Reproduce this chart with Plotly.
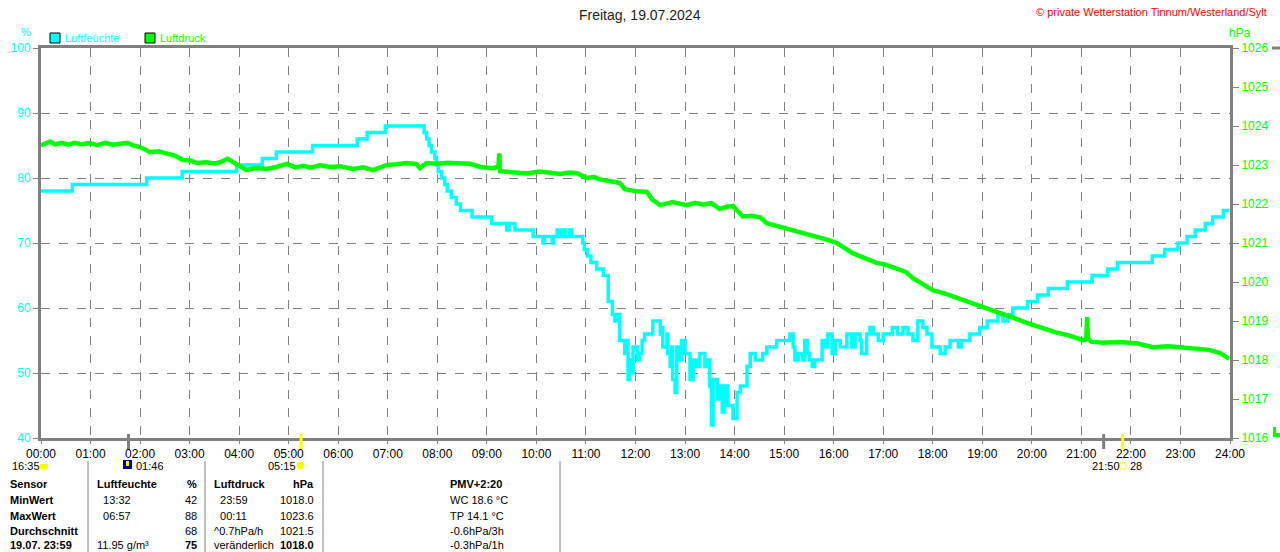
import plotly.graph_objects as go

# Luftfeuchte (%), Stufenwerte
hum_time = ["00:00", "00:38", "02:08", "02:51", "03:57", "04:28", "04:45", "05:29", "06:23", "06:35",
            "06:57", "07:44", "07:47", "07:50", "07:53", "07:57", "07:59", "08:01", "08:05", "08:09",
            "08:12", "08:17", "08:23", "08:28", "08:42", "09:06", "09:24", "09:27", "09:34", "09:56",
            "10:08", "10:10", "10:19", "10:21", "10:25", "10:28", "10:32", "10:35", "10:40", "10:43",
            "10:56", "10:58", "11:02", "11:06", "11:13", "11:21", "11:27", "11:32", "11:35", "11:38",
            "11:41", "11:47", "11:50", "11:51", "11:53", "11:56", "11:57", "12:02", "12:05", "12:08",
            "12:11", "12:21", "12:30", "12:32", "12:33", "12:38", "12:39", "12:42", "12:44", "12:45",
            "12:48", "12:50", "12:54", "12:56", "13:00", "13:06", "13:10", "13:14", "13:18", "13:24",
            "13:27", "13:30", "13:32", "13:34", "13:39", "13:42", "13:45", "13:48", "13:52", "13:58",
            "14:03", "14:07", "14:15", "14:19", "14:25", "14:34", "14:39", "14:51", "15:07", "15:11",
            "15:13", "15:17", "15:22", "15:25", "15:28", "15:31", "15:34", "15:37", "15:46", "15:50",
            "15:53", "15:58", "16:02", "16:08", "16:16", "16:22", "16:26", "16:32", "16:34", "16:40",
            "16:44", "16:48", "16:54", "17:00", "17:11", "17:17", "17:24", "17:30", "17:36", "17:42",
            "17:48", "17:53", "17:59", "18:09", "18:15", "18:21", "18:31", "18:35", "18:45", "18:57",
            "19:06", "19:19", "19:25", "19:31", "19:37", "19:55", "20:07", "20:20", "20:43", "21:13",
            "21:32", "21:44", "22:26", "22:41", "22:57", "23:08", "23:18", "23:30", "23:39", "23:52",
            "23:59"]
hum_val = [78, 79, 80, 81, 82, 83, 84, 85, 86, 87,
           88, 87, 86, 85, 84, 83, 82, 81, 80, 79,
           78, 77, 76, 75, 74, 73, 72, 73, 72, 71,
           70, 71, 70, 71, 72, 71, 72, 71, 72, 71,
           70, 69, 68, 67, 66, 65, 61, 59, 58, 59,
           55, 53, 55, 49, 52, 50, 54, 52, 53, 55,
           56, 58, 56, 57, 54, 56, 53, 51, 54, 49,
           47, 54, 52, 55, 53, 49, 52, 51, 53, 51,
           52, 48, 42, 49, 46, 48, 44, 48, 45, 43,
           47, 48, 51, 53, 52, 53, 54, 55, 56, 54,
           52, 53, 52, 55, 53, 52, 51, 52, 55, 54,
           56, 53, 55, 54, 56, 54, 56, 55, 53, 56,
           57, 56, 55, 56, 57, 56, 57, 56, 55, 58,
           57, 56, 54, 53, 54, 55, 54, 55, 56, 57,
           58, 59, 58, 59, 60, 61, 62, 63, 64, 65,
           66, 67, 68, 69, 70, 71, 72, 73, 74, 75,
           75]

# Luftdruck (hPa)
prs_time = ["00:00", "00:05", "00:11", "00:17", "00:25", "00:33", "00:41", "00:50", "00:59", "01:08",
            "01:18", "01:27", "01:36", "01:45", "01:52", "02:00", "02:06", "02:12", "02:22", "02:33",
            "02:42", "02:52", "03:00", "03:09", "03:20", "03:30", "03:37", "03:46", "03:52", "03:57",
            "04:09", "04:20", "04:34", "04:45", "04:58", "05:08", "05:18", "05:26", "05:38", "05:50",
            "06:02", "06:18", "06:30", "06:42", "06:52", "06:59", "07:10", "07:23", "07:35", "07:39",
            "07:47", "08:00", "08:12", "08:24", "08:40", "08:52", "09:07", "09:14", "09:15", "09:16",
            "09:30", "09:49", "10:04", "10:15", "10:29", "10:40", "10:49", "11:01", "11:10", "11:17",
            "11:30", "11:41", "11:47", "12:00", "12:14", "12:20", "12:30", "12:45", "13:02", "13:12",
            "13:22", "13:32", "13:42", "13:50", "13:58", "14:10", "14:20", "14:31", "14:39", "14:50",
            "15:03", "15:13", "15:23", "15:33", "15:43", "15:53", "16:04", "16:14", "16:23", "16:37",
            "16:52", "17:02", "17:12", "17:20", "17:28", "17:36", "17:48", "18:00", "18:15", "18:33",
            "18:47", "19:01", "19:15", "19:30", "19:42", "19:54", "20:06", "20:18", "20:30", "20:43",
            "20:52", "21:02", "21:06", "21:07", "21:08", "21:12", "21:26", "21:45", "22:07", "22:27",
            "22:45", "23:03", "23:15", "23:27", "23:35", "23:48", "23:59"]
prs_val = [1023.50, 1023.56, 1023.60, 1023.53, 1023.57, 1023.52, 1023.57, 1023.53, 1023.56, 1023.51,
           1023.57, 1023.52, 1023.55, 1023.57, 1023.50, 1023.46, 1023.40, 1023.33, 1023.35, 1023.28,
           1023.24, 1023.13, 1023.12, 1023.05, 1023.07, 1023.04, 1023.07, 1023.16, 1023.08, 1023.00,
           1022.87, 1022.92, 1022.90, 1022.95, 1023.03, 1022.94, 1022.98, 1022.93, 1022.99, 1022.95,
           1022.97, 1022.90, 1022.94, 1022.87, 1022.93, 1023.00, 1023.02, 1023.05, 1023.02, 1022.92,
           1023.05, 1023.03, 1023.06, 1023.05, 1023.03, 1022.95, 1022.92, 1022.96, 1023.30, 1022.84,
           1022.82, 1022.78, 1022.83, 1022.80, 1022.77, 1022.81, 1022.79, 1022.67, 1022.69, 1022.63,
           1022.58, 1022.54, 1022.38, 1022.33, 1022.31, 1022.12, 1021.97, 1022.05, 1021.97, 1022.03,
           1021.99, 1022.02, 1021.87, 1021.93, 1021.95, 1021.68, 1021.70, 1021.66, 1021.51, 1021.45,
           1021.38, 1021.32, 1021.26, 1021.21, 1021.15, 1021.08, 1021.00, 1020.86, 1020.74, 1020.62,
           1020.49, 1020.45, 1020.38, 1020.30, 1020.25, 1020.10, 1019.95, 1019.79, 1019.70, 1019.57,
           1019.47, 1019.36, 1019.26, 1019.15, 1019.05, 1018.95, 1018.86, 1018.77, 1018.70, 1018.64,
           1018.58, 1018.51, 1018.53, 1019.10, 1018.55, 1018.47, 1018.44, 1018.46, 1018.43, 1018.33,
           1018.35, 1018.32, 1018.30, 1018.28, 1018.26, 1018.18, 1018.03]

hour_ticks = list(range(25))
hour_labels = ["%02d:00" % h for h in hour_ticks]
hum_ticks = [40, 50, 60, 70, 80, 90, 100]
prs_ticks = list(range(1016, 1027))

# Mond/Sonne Ereignisse: (Zeit, Farbe)
event_time = ["01:46", "05:15", "21:27", "21:50"]
event_color = ["#808080", "#ffff00", "#808080", "#ffff00"]

# Tabelle unten
table_rows = [
    ["Sensor", "Luftfeuchte", "%", "Luftdruck", "hPa", "PMV+2:20"],
    ["MinWert", "  13:32", "42", "  23:59", "1018.0", "WC 18.6 °C"],
    ["MaxWert", "  06:57", "88", "  00:11", "1023.6", "TP 14.1 °C"],
    ["Durchschnitt", "", "68", "^0.7hPa/h", "1021.5", "-0.6hPa/3h"],
    ["19.07. 23:59", "11.95 g/m³", "75", "veränderlich", "1018.0", "-0.3hPa/1h"],
]


def to_h(t):
    hh, mm = t.split(":")
    return int(hh) + int(mm) / 60.0


CYAN = "#00ffff"
GREEN = "#00ff00"
GRAY = "#808080"
FONT = "Liberation Sans"
W, H = 1280, 552
L, R, T, B = 41, 1230, 48, 438


def px(x):
    return (x - L) / (R - L)


def py(y):
    return (B - y) / (B - T)


fig = go.Figure()
fig.add_trace(go.Scatter(x=[to_h(t) for t in prs_time], y=prs_val, yaxis="y2",
                         mode="lines", line=dict(color=GREEN, width=4.5), name="Luftdruck"))
fig.add_trace(go.Scatter(x=[to_h(t) for t in hum_time], y=hum_val,
                         mode="lines", line=dict(color=CYAN, width=3.5, shape="hv"), name="Luftfeuchte"))

ann = []
shapes = []


def text(x, y, s, color="black", size=12, anchor="left", bold=False):
    if bold:
        s = "<b>" + s + "</b>"
    ann.append(dict(x=px(x), y=py(y), xref="paper", yref="paper", text=s, showarrow=False,
                    xanchor=anchor, yanchor="middle", font=dict(color=color, size=size, family=FONT)))


def rect(x0, y0, x1, y1, fill=None, line=None):
    shapes.append(dict(type="rect", xref="paper", yref="paper", x0=px(x0), x1=px(x1),
                       y0=py(y1), y1=py(y0), fillcolor=fill,
                       line=line if line else dict(width=0)))


text(640, 15, "Freitag, 19.07.2024", color="#222222", size=14, anchor="center")
text(1269, 12, "© private Wetterstation Tinnum/Westerland/Sylt", color="#ff0000", size=11, anchor="right")
text(26, 32, "%", color=CYAN, size=11, anchor="center")
text(1240, 33, "hPa", color=GREEN, size=12, anchor="center")

# Legende
for x0, col, lab in [(50, CYAN, "Luftfeuchte"), (145, GREEN, "Luftdruck")]:
    rect(x0, 33, x0 + 10, 43, fill=col, line=dict(color="black", width=1))
    text(x0 + 13, 38, lab, color=col, size=11)

# Ereignis-Striche an der Zeitachse
for t, c in zip(event_time, event_color):
    shapes.append(dict(type="line", xref="x", yref="paper", x0=to_h(t), x1=to_h(t),
                       y0=py(434), y1=py(449), line=dict(color=c, width=3)))

ev_y = 466
text(10, ev_y, "16:35", size=11)
rect(40, ev_y - 2, 48, ev_y + 3, fill="#ffff00")
rect(123, ev_y - 6, 132, ev_y + 3, fill="#000080")
rect(126, ev_y - 5, 129, ev_y, fill="#ffff00")
text(134, ev_y, "01:46", size=11)
text(266, ev_y, "05:15", size=11)
shapes.append(dict(type="circle", xref="paper", yref="paper", x0=px(297), x1=px(304),
                   y0=py(ev_y + 3), y1=py(ev_y - 4), fillcolor="#ffff00", line=dict(color="#ffff00", width=1)))
text(1090, ev_y, "21:50", size=11)
rect(1120, ev_y - 3, 1126, ev_y + 3, line=dict(color="#ffff00", width=1))
text(1128, ev_y, "28", size=11)

# Randstücke rechts
shapes.append(dict(type="line", xref="paper", yref="paper", x0=px(1272), x1=px(1281),
                   y0=py(48), y1=py(48), line=dict(color=GRAY, width=3)))
rect(1273, 427, 1276, 437, fill=GREEN)
rect(1273, 433, 1281, 437, fill=GREEN)

# Tabelle
row_y = [484, 500, 516, 531, 545]
col_x = [8, 95, 199, 212, 316, 448]
col_anchor = ["left", "left", "right", "left", "right", "left"]
for i, row in enumerate(table_rows):
    for j, cell in enumerate(row):
        if cell == "":
            continue
        bold = i == 0 or j == 0 or (i == 4 and j in (2, 4))
        text(col_x[j], row_y[i], cell, size=11, anchor=col_anchor[j], bold=bold)
for sx in [88, 205, 323, 560]:
    shapes.append(dict(type="line", xref="paper", yref="paper", x0=px(sx), x1=px(sx),
                       y0=py(461), y1=py(556), line=dict(color=GRAY, width=1)))

fig.update_layout(
    width=W, height=H,
    margin=dict(l=L, r=W - R, t=T, b=H - B, pad=0),
    paper_bgcolor="white", plot_bgcolor="white",
    showlegend=False,
    font=dict(family=FONT, size=12, color="black"),
    annotations=ann, shapes=shapes,
    xaxis=dict(range=[0, 24], tickmode="array", tickvals=hour_ticks, ticktext=hour_labels,
               showgrid=True, gridcolor=GRAY, griddash="dash", gridwidth=1,
               showline=True, linecolor=GRAY, linewidth=3, mirror=True,
               ticks="outside", ticklen=3, tickcolor=GRAY, zeroline=False,
               tickfont=dict(size=12, color="black", family=FONT)),
    yaxis=dict(range=[40, 100], tickmode="array", tickvals=hum_ticks,
               showgrid=True, gridcolor=GRAY, griddash="dash", gridwidth=1,
               showline=True, linecolor=GRAY, linewidth=3,
               ticks="outside", ticklen=5, tickcolor=GRAY, zeroline=False,
               tickfont=dict(size=12, color=CYAN, family=FONT)),
    yaxis2=dict(range=[1016, 1026], tickmode="array", tickvals=prs_ticks,
                overlaying="y", side="right", showgrid=False,
                showline=True, linecolor=GRAY, linewidth=3,
                ticks="outside", ticklen=6, tickcolor=GRAY, zeroline=False,
                tickfont=dict(size=12, color=GREEN, family=FONT)),
)

fig.write_html("out.html", config={"displayModeBar": False},
               post_script="document.body.style.margin='0';document.body.style.overflow='hidden';")
